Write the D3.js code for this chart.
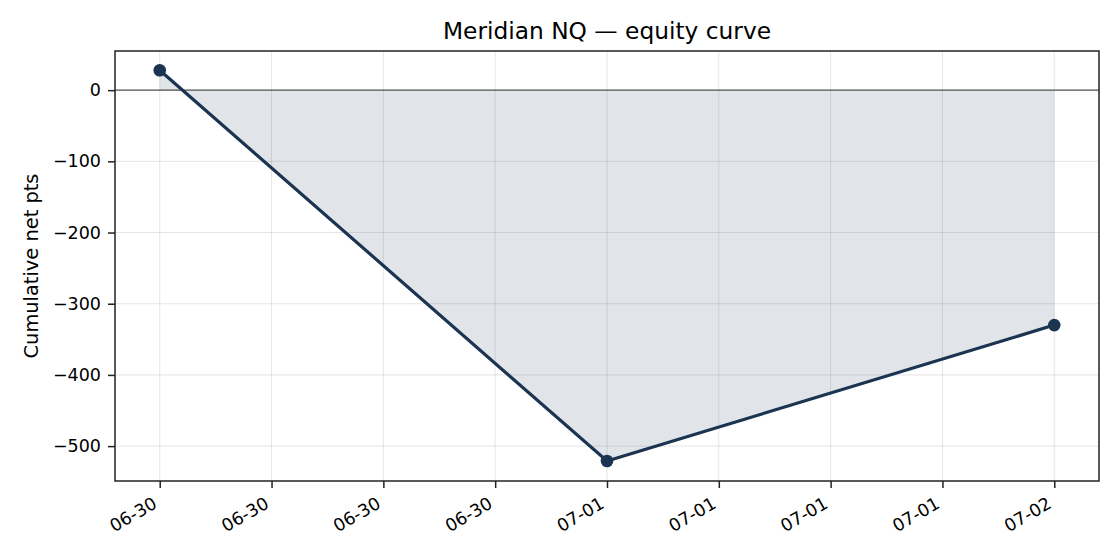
<!DOCTYPE html>
<html>
<head>
<meta charset="utf-8">
<script src="https://cdn.jsdelivr.net/npm/d3@7"></script>
<style>
  body { margin: 0; background: #fff; }
  text { font-family: "DejaVu Sans", sans-serif; fill: #000; }
</style>
</head>
<body>
<div id="chart"></div>
<script>
const dates = ['2024-06-30T00:00', '2024-07-01T00:00', '2024-07-02T00:00']
const equity = [28, -521, -330]
const tickDates = ['2024-06-30T00:00', '2024-06-30T06:00', '2024-06-30T12:00', '2024-06-30T18:00',
  '2024-07-01T00:00', '2024-07-01T06:00', '2024-07-01T12:00', '2024-07-01T18:00', '2024-07-02T00:00']
const yTicks = [0, -100, -200, -300, -400, -500]

const width = 1120, height = 560
const m = {left: 115, right: 21, top: 51, bottom: 79}
const lineColor = '#1b3452'

const svg = d3.select('#chart').append('svg')
  .attr('width', width).attr('height', height)

const pts = dates.map((d, i) => ({date: new Date(d), v: equity[i]}))

const t0 = pts[0].date, t1 = pts[pts.length - 1].date
const pad = (t1 - t0) * 0.05
const x = d3.scaleTime()
  .domain([new Date(+t0 - pad), new Date(+t1 + pad)])
  .range([m.left, width - m.right])
const y = d3.scaleLinear()
  .domain([-549, 55])
  .range([height - m.bottom, m.top])

// grid
svg.append('g').selectAll('line').data(tickDates).enter().append('line')
  .attr('x1', d => x(new Date(d))).attr('x2', d => x(new Date(d)))
  .attr('y1', m.top).attr('y2', height - m.bottom)
  .attr('stroke', '#000').attr('stroke-opacity', 0.1).attr('stroke-width', 1)
svg.append('g').selectAll('line').data(yTicks).enter().append('line')
  .attr('x1', m.left).attr('x2', width - m.right)
  .attr('y1', d => y(d)).attr('y2', d => y(d))
  .attr('stroke', '#000').attr('stroke-opacity', 0.1).attr('stroke-width', 1)

// fill between curve and zero
const area = d3.area().x(d => x(d.date)).y0(y(0)).y1(d => y(d.v))
svg.append('path').datum(pts).attr('d', area)
  .attr('fill', lineColor).attr('fill-opacity', 0.13)

// zero line
svg.append('line')
  .attr('x1', m.left).attr('x2', width - m.right)
  .attr('y1', y(0)).attr('y2', y(0))
  .attr('stroke', '#555').attr('stroke-width', 1.2)

const line = d3.line().x(d => x(d.date)).y(d => y(d.v))
svg.append('path').datum(pts).attr('d', line)
  .attr('fill', 'none').attr('stroke', lineColor).attr('stroke-width', 3.2)
svg.selectAll('circle').data(pts).enter().append('circle')
  .attr('cx', d => x(d.date)).attr('cy', d => y(d.v)).attr('r', 6.3)
  .attr('fill', lineColor)

// axes
const xAxis = d3.axisBottom(x).tickValues(tickDates.map(d => new Date(d)))
  .tickFormat(d3.timeFormat('%m-%d')).tickSize(7).tickPadding(0)
const gx = svg.append('g')
  .attr('transform', `translate(0,${height - m.bottom})`)
  .call(xAxis)
gx.attr('font-size', null).attr('font-family', null)
gx.select('.domain').remove()
gx.selectAll('.tick line').attr('stroke', '#222').attr('stroke-width', 1.5)
gx.selectAll('.tick text')
  .style('font-size', '17.5px')
  .attr('text-anchor', 'end')
  .attr('y', 0).attr('dy', 0)
  .attr('transform', 'translate(-2,26) rotate(-30)')

const yAxis = d3.axisLeft(y).tickValues(yTicks)
  .tickFormat(d => d < 0 ? '\u2212' + Math.abs(d) : d).tickSize(7).tickPadding(7)
const gy = svg.append('g')
  .attr('transform', `translate(${m.left},0)`)
  .call(yAxis)
gy.attr('font-size', null).attr('font-family', null)
gy.select('.domain').remove()
gy.selectAll('.tick line').attr('stroke', '#222').attr('stroke-width', 1.5)
gy.selectAll('.tick text').style('font-size', '17.5px')

// frame
svg.append('rect')
  .attr('x', m.left).attr('y', m.top)
  .attr('width', width - m.left - m.right).attr('height', height - m.top - m.bottom)
  .attr('fill', 'none').attr('stroke', '#222').attr('stroke-width', 1.5)

svg.append('text')
  .text('Meridian NQ \u2014 equity curve')
  .attr('x', (m.left + width - m.right) / 2).attr('y', 39)
  .attr('text-anchor', 'middle').style('font-size', '23.3px')

svg.append('text')
  .text('Cumulative net pts')
  .attr('transform', `translate(38,${(m.top + height - m.bottom) / 2}) rotate(-90)`)
  .attr('text-anchor', 'middle').style('font-size', '19.4px')
</script>
</body>
</html>
